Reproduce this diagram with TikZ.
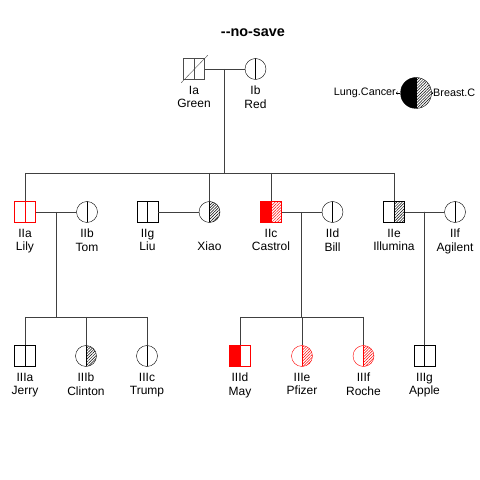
\documentclass[tikz,border=0pt]{standalone}
\usepackage{fontspec}
\setmainfont{Liberation Sans}
\usetikzlibrary{calc,patterns.meta,arrows.meta}

\begin{document}
\begin{tikzpicture}[x=1pt, y=1pt,
    male/.style={draw, rectangle, minimum size=21pt, inner sep=0pt},
    female/.style={draw, circle, minimum size=21pt, inner sep=0pt},
    halves/.style n args={3}{path picture={
        \path [#2] (path picture bounding box.south west) rectangle (path picture bounding box.north);
        \path [#3] (path picture bounding box.south) rectangle (path picture bounding box.north east);
        \draw [#1] (path picture bounding box.north) -- (path picture bounding box.south);
    }},
    hatch/.style={pattern={Lines[angle=45, distance=2pt, line width=0.5pt]}, pattern color=#1},
    who/.style={label={[align=center, text=black, inner sep=0pt, label distance=6pt,
        font=\fontsize{12}{13.5}\selectfont]below:#1}},
    line/.style={black!75, line width=0.6pt},
]
    \useasboundingbox (0, 0) rectangle (480, 480);

    % Title
    \node [font=\bfseries\fontsize{14.4}{16}\selectfont] (title) at (253, 447) {-{}-no-save};

    % Legend
    \node [female, minimum size=31pt, halves={black}{fill=black}{hatch=black}] (key) at (416, 387) {};
    \node [left, inner sep=0pt, font=\fontsize{10.8}{13}\selectfont] (lung) at (396, 387) {Lung.Cancer};
    \node [right, inner sep=0pt, font=\fontsize{10.8}{13}\selectfont] (breast) at (433, 387) {Breast.C};
    \draw [-{To[length=2pt, width=3pt]}, thin] (key.west) -- (lung.east);
    \draw [-{To[length=2pt, width=3pt]}, thin] (key.east) -- (breast.west);

    % Generation I
    \node [male, black!70, halves={black!70}{}{}, who={Ia\\Green}] (Ia) at (194, 411) {};
    \node [female, halves={black}{}{}, who={Ib\\Red}] (Ib) at (255.5, 411) {};
    \draw [black!70] ([shift={(-2,-3)}]Ia.south west) -- ([shift={(3,3)}]Ia.north east);

    % Generation II
    \node [male, red, halves={red}{}{}, who={IIa\\Lily}] (IIa) at (25, 268) {};
    \node [female, halves={black}{}{}, who={IIb\\Tom}] (IIb) at (87, 268) {};
    \node [male, halves={black}{}{}, who={IIg\\Liu}] (IIg) at (147.5, 268) {};
    \node [female, halves={black}{}{hatch=black}, who={\vphantom{I}\\Xiao}] (Xiao) at (209.5, 268) {};
    \node [male, red, halves={red}{fill=red}{hatch=red}, who={IIc\\Castrol}] (IIc) at (271, 268) {};
    \node [female, halves={black}{}{}, who={IId\\Bill}] (IId) at (332.5, 268) {};
    \node [male, halves={black}{}{hatch=black}, who={IIe\\Illumina}] (IIe) at (394, 268) {};
    \node [female, halves={black}{}{}, who={IIf\\Agilent}] (IIf) at (455, 268) {};

    % Generation III
    \node [male, halves={black}{}{}, who={IIIa\\Jerry}] (IIIa) at (25, 124) {};
    \node [female, halves={black}{}{hatch=black}, who={IIIb\\Clinton}] (IIIb) at (86, 124) {};
    \node [female, halves={black}{}{}, who={IIIc\\Trump}] (IIIc) at (147, 124) {};
    \node [male, red, halves={red}{fill=red}{}, who={IIId\\May}] (IIId) at (240, 124) {};
    \node [female, red, halves={red}{}{hatch=red}, who={IIIe\\Pfizer}] (IIIe) at (302, 124) {};
    \node [female, red, halves={red}{}{hatch=red}, who={IIIf\\Roche}] (IIIf) at (363.5, 124) {};
    \node [male, halves={black}{}{}, who={IIIg\\Apple}] (IIIg) at (424.5, 124) {};

    % Marriages
    \draw [line] (Ia) -- (Ib);
    \draw [line] (IIa) -- (IIb);
    \draw [line] (IIg) -- (Xiao);
    \draw [line] (IIc) -- (IId);
    \draw [line] (IIe) -- (IIf);

    % Descent
    \coordinate (m1) at ($(Ia.east)!0.5!(Ib.west)$);
    \coordinate (s1) at (m1 |- 0, 307);
    \draw [line] (m1) -- (s1);
    \draw [line] (IIa |- s1) -- (IIe |- s1);
    \foreach \kid in {IIa, Xiao, IIc, IIe} {
            \draw [line] (\kid |- s1) -- (\kid.north);
        }

    \coordinate (m2) at ($(IIa.east)!0.5!(IIb.west)$);
    \coordinate (s2) at (m2 |- 0, 163);
    \draw [line] (m2) -- (s2);
    \draw [line] (IIIa |- s2) -- (IIIc |- s2);
    \foreach \kid in {IIIa, IIIb, IIIc} {
            \draw [line] (\kid |- s2) -- (\kid.north);
        }

    \coordinate (m3) at ($(IIc.east)!0.5!(IId.west)$);
    \coordinate (s3) at (m3 |- 0, 163);
    \draw [line] (m3) -- (s3);
    \draw [line] (IIId |- s3) -- (IIIf |- s3);
    \foreach \kid in {IIId, IIIe, IIIf} {
            \draw [line] (\kid |- s3) -- (\kid.north);
        }

    \coordinate (m4) at ($(IIe.east)!0.5!(IIf.west)$);
    \draw [line] (m4) -- (IIIg.north);

\end{tikzpicture}
\end{document}
